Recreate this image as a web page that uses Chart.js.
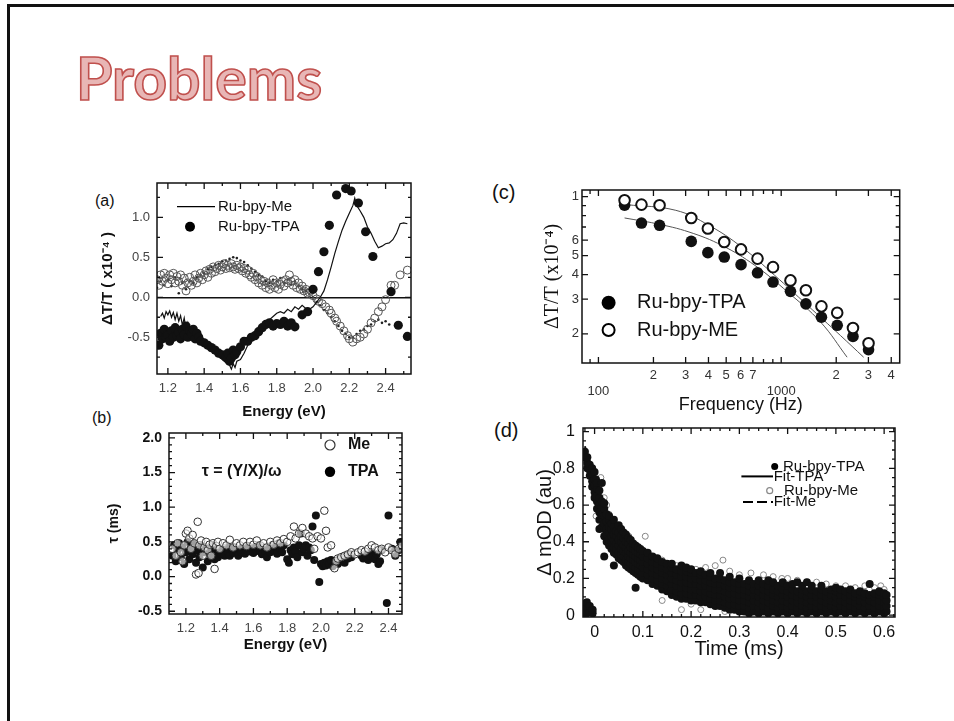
<!DOCTYPE html>
<html><head><meta charset="utf-8">
<script src="https://cdn.jsdelivr.net/npm/chart.js@4.4.1/dist/chart.umd.min.js"></script>
<style>
html,body{margin:0;padding:0;background:#fff;}
body{width:954px;height:721px;position:relative;overflow:hidden;font-family:"Liberation Sans",Arial,sans-serif;}
#frame{position:absolute;left:7px;top:4px;width:960px;height:740px;border-left:3px solid #111;border-top:3px solid #111;}
#title{position:absolute;left:76px;top:48px;font-family:Lato,"Open Sans",sans-serif;font-weight:bold;font-size:59px;line-height:60px;color:#e8b6b5;-webkit-text-stroke:1.6px #c0504d;white-space:nowrap;}
.pl{position:absolute;color:#111;white-space:nowrap;}
canvas{position:absolute;}
</style></head>
<body>
<div id="frame"></div>
<div id="title">Problems</div>
<div class="pl" style="left:95px;top:192px;font-size:16px;line-height:18px;">(a)</div>
<div class="pl" style="left:92px;top:409px;font-size:16px;line-height:18px;">(b)</div>
<div class="pl" style="left:492px;top:180px;font-size:20px;line-height:24px;">(c)</div>
<div class="pl" style="left:494px;top:418px;font-size:20px;line-height:24px;">(d)</div>
<canvas id="ca" width="317" height="250" style="left:99px;top:171px"></canvas>
<canvas id="cb" width="301" height="233" style="left:106px;top:421px"></canvas>
<canvas id="cc" width="366" height="238" style="left:541px;top:178px"></canvas>
<canvas id="cd" width="367" height="245" style="left:533px;top:416px"></canvas>
<script>
// ---------------- Panel (a): ΔT/T vs Energy ----------------
const aLegend = ['Ru-bpy-Me', 'Ru-bpy-TPA'];
const aXTicks = [1.2, 1.4, 1.6, 1.8, 2.0, 2.2, 2.4];
const aXMinor = [1.3, 1.5, 1.7, 1.9, 2.1, 2.3, 2.5];
const aYTicks = [-0.5, 0.0, 0.5, 1.0];
const aYMinor = [-0.75, -0.25, 0.25, 0.75, 1.25];
const aMeLine = [[1.16,-0.24],[1.17,-0.20],[1.18,-0.26],[1.19,-0.18],[1.20,-0.22],[1.21,-0.17],[1.22,-0.25],[1.23,-0.19],[1.24,-0.28],[1.25,-0.20],[1.26,-0.30],[1.27,-0.23],[1.28,-0.35],[1.29,-0.26],[1.30,-0.40],[1.31,-0.32],[1.32,-0.45],[1.34,-0.42],[1.36,-0.50],[1.38,-0.52],[1.40,-0.55],[1.42,-0.60],[1.44,-0.65],[1.46,-0.70],[1.48,-0.74],[1.50,-0.78],[1.52,-0.82],[1.54,-0.85],[1.55,-0.90],[1.56,-0.83],[1.57,-0.88],[1.58,-0.80],[1.60,-0.78],[1.62,-0.70],[1.64,-0.60],[1.66,-0.55],[1.68,-0.50],[1.70,-0.44],[1.72,-0.38],[1.74,-0.32],[1.76,-0.28],[1.78,-0.24],[1.80,-0.20],[1.82,-0.18],[1.84,-0.20],[1.86,-0.15],[1.88,-0.18],[1.90,-0.12],[1.92,-0.15],[1.94,-0.10],[1.96,-0.14],[1.98,-0.15],[2.00,-0.12],[2.02,-0.06],[2.04,0.00],[2.06,0.08],[2.08,0.22],[2.10,0.38],[2.12,0.55],[2.14,0.70],[2.16,0.84],[2.18,0.95],[2.20,1.05],[2.22,1.15],[2.23,1.24],[2.24,1.15],[2.26,1.08],[2.28,1.00],[2.30,0.88],[2.32,0.80],[2.34,0.70],[2.36,0.62],[2.38,0.64],[2.40,0.67],[2.42,0.68],[2.44,0.72],[2.46,0.80],[2.48,0.92],[2.50,0.93],[2.52,0.92]];
const aTpaDots = [[1.15,-0.60],[1.16,-0.45],[1.17,-0.52],[1.18,-0.40],[1.19,-0.50],[1.20,-0.47],[1.21,-0.55],[1.22,-0.42],[1.23,-0.50],[1.24,-0.38],[1.25,-0.48],[1.26,-0.44],[1.27,-0.52],[1.28,-0.40],[1.29,-0.47],[1.30,-0.36],[1.31,-0.50],[1.32,-0.42],[1.33,-0.46],[1.34,-0.40],[1.35,-0.52],[1.36,-0.45],[1.37,-0.50],[1.38,-0.55],[1.40,-0.57],[1.42,-0.60],[1.44,-0.63],[1.46,-0.66],[1.48,-0.70],[1.50,-0.72],[1.52,-0.75],[1.53,-0.70],[1.54,-0.80],[1.55,-0.76],[1.56,-0.66],[1.57,-0.72],[1.58,-0.68],[1.60,-0.62],[1.62,-0.55],[1.64,-0.55],[1.66,-0.50],[1.68,-0.48],[1.70,-0.43],[1.72,-0.38],[1.74,-0.34],[1.76,-0.32],[1.78,-0.36],[1.80,-0.33],[1.82,-0.34],[1.84,-0.30],[1.86,-0.36],[1.88,-0.32],[1.90,-0.37],[1.94,-0.22],[1.97,-0.18],[2.00,0.10],[2.03,0.32],[2.06,0.57],[2.09,0.90],[2.13,1.28],[2.18,1.36],[2.21,1.33],[2.25,1.18],[2.29,0.82],[2.33,0.51],[2.43,0.07],[2.47,-0.35],[2.52,-0.49]];
const aOpen = [[1.14,0.22],[1.15,0.15],[1.16,0.28],[1.17,0.20],[1.18,0.30],[1.19,0.24],[1.20,0.17],[1.21,0.28],[1.22,0.22],[1.23,0.30],[1.24,0.18],[1.25,0.26],[1.26,0.20],[1.27,0.28],[1.28,0.15],[1.29,0.24],[1.30,0.08],[1.31,0.18],[1.32,0.25],[1.33,0.15],[1.34,0.20],[1.35,0.28],[1.36,0.18],[1.37,0.24],[1.38,0.30],[1.39,0.22],[1.40,0.28],[1.41,0.33],[1.42,0.25],[1.43,0.35],[1.44,0.30],[1.45,0.38],[1.46,0.32],[1.47,0.36],[1.48,0.40],[1.49,0.34],[1.50,0.38],[1.51,0.42],[1.52,0.36],[1.53,0.40],[1.54,0.37],[1.55,0.42],[1.56,0.38],[1.57,0.35],[1.58,0.40],[1.59,0.36],[1.60,0.38],[1.61,0.33],[1.62,0.36],[1.63,0.30],[1.64,0.34],[1.65,0.28],[1.66,0.25],[1.67,0.30],[1.68,0.22],[1.69,0.26],[1.70,0.18],[1.71,0.22],[1.72,0.15],[1.73,0.20],[1.74,0.12],[1.75,0.18],[1.76,0.10],[1.77,0.15],[1.78,0.22],[1.79,0.12],[1.80,0.18],[1.81,0.10],[1.82,0.16],[1.83,0.20],[1.84,0.14],[1.85,0.22],[1.86,0.18],[1.87,0.28],[1.88,0.20],[1.89,0.15],[1.90,0.22],[1.91,0.12],[1.92,0.18],[1.93,0.10],[1.94,0.14],[1.95,0.08],[1.96,0.10],[1.97,0.05],[1.98,0.06],[2.00,0.02],[2.02,-0.02],[2.03,-0.05],[2.05,-0.08],[2.07,-0.12],[2.09,-0.16],[2.10,-0.20],[2.12,-0.26],[2.13,-0.30],[2.15,-0.36],[2.17,-0.42],[2.19,-0.48],[2.20,-0.52],[2.22,-0.56],[2.24,-0.52],[2.26,-0.50],[2.28,-0.46],[2.30,-0.40],[2.32,-0.32],[2.34,-0.26],[2.36,-0.18],[2.38,-0.12],[2.40,-0.03],[2.43,0.15],[2.45,0.15],[2.48,0.28],[2.52,0.34]];
const aSmallDots = [[1.14,0.12],[1.16,0.20],[1.18,0.15],[1.20,0.22],[1.22,0.14],[1.24,0.25],[1.26,0.05],[1.28,0.18],[1.30,0.10],[1.32,0.20],[1.34,0.18],[1.36,0.25],[1.38,0.28],[1.40,0.30],[1.42,0.35],[1.44,0.38],[1.46,0.40],[1.48,0.42],[1.50,0.45],[1.52,0.46],[1.54,0.48],[1.56,0.50],[1.58,0.49],[1.60,0.46],[1.62,0.44],[1.64,0.40],[1.66,0.36],[1.68,0.32],[1.70,0.28],[1.72,0.26],[1.74,0.20],[1.76,0.18],[1.78,0.22],[1.80,0.20],[1.82,0.24],[1.84,0.18],[1.86,0.22],[1.88,0.16],[1.90,0.20],[1.92,0.14],[1.94,0.10],[1.96,0.08],[1.98,0.04],[2.00,0.00],[2.02,-0.06],[2.04,-0.10],[2.06,-0.16],[2.08,-0.20],[2.10,-0.25],[2.12,-0.30],[2.14,-0.36],[2.16,-0.42],[2.18,-0.46],[2.20,-0.50],[2.22,-0.50],[2.24,-0.46],[2.26,-0.42],[2.28,-0.40],[2.30,-0.36],[2.32,-0.34],[2.34,-0.30],[2.36,-0.28],[2.38,-0.32],[2.40,-0.30],[2.42,-0.34]];

// ---------------- Panel (b): tau vs Energy ----------------
const bLegend = ['Me', 'TPA'];
const bNote = 'τ = (Y/X)/ω';
const bXTicks = [1.2, 1.4, 1.6, 1.8, 2.0, 2.2, 2.4];
const bXMinor = [1.1, 1.3, 1.5, 1.7, 1.9, 2.1, 2.3];
const bYTicks = [-0.5, 0.0, 0.5, 1.0, 1.5, 2.0];
const bYMinor = [-0.4,-0.3,-0.2,-0.1,0.1,0.2,0.3,0.4,0.6,0.7,0.8,0.9,1.1,1.2,1.3,1.4,1.6,1.7,1.8,1.9];
const bMe = [[1.12,0.40],[1.14,0.30],[1.15,0.48],[1.17,0.35],[1.18,0.22],[1.19,0.45],[1.20,0.62],[1.21,0.66],[1.22,0.55],[1.23,0.40],[1.24,0.60],[1.25,0.48],[1.26,0.03],[1.27,0.79],[1.275,0.05],[1.28,0.45],[1.29,0.52],[1.30,0.30],[1.31,0.42],[1.32,0.50],[1.33,0.38],[1.34,0.46],[1.35,0.30],[1.36,0.48],[1.37,0.11],[1.38,0.44],[1.39,0.50],[1.40,0.40],[1.42,0.48],[1.44,0.45],[1.46,0.53],[1.48,0.42],[1.50,0.48],[1.52,0.45],[1.54,0.50],[1.56,0.44],[1.58,0.50],[1.60,0.46],[1.62,0.52],[1.64,0.45],[1.66,0.48],[1.68,0.42],[1.70,0.50],[1.72,0.46],[1.74,0.52],[1.76,0.48],[1.78,0.54],[1.80,0.50],[1.82,0.58],[1.84,0.72],[1.85,0.55],[1.87,0.62],[1.89,0.70],[1.91,0.62],[1.93,0.58],[1.95,0.55],[1.96,0.40],[1.98,0.58],[2.00,0.55],[2.02,0.95],[2.03,0.66],[2.04,0.42],[2.06,0.45],[2.08,0.12],[2.09,0.22],[2.10,0.26],[2.12,0.28],[2.14,0.30],[2.16,0.32],[2.18,0.35],[2.20,0.32],[2.22,0.35],[2.24,0.38],[2.26,0.36],[2.28,0.40],[2.30,0.45],[2.32,0.42],[2.34,0.38],[2.36,0.40],[2.38,0.35],[2.40,0.42],[2.42,0.38],[2.44,0.32],[2.46,0.40],[2.48,0.45]];
const bTpa = [[1.12,0.30],[1.13,0.45],[1.14,0.22],[1.15,0.38],[1.16,0.48],[1.17,0.28],[1.18,0.42],[1.19,0.18],[1.20,0.35],[1.21,0.50],[1.22,0.25],[1.23,0.40],[1.24,0.32],[1.25,0.47],[1.26,0.20],[1.27,0.38],[1.28,0.28],[1.29,0.45],[1.30,0.13],[1.31,0.35],[1.32,0.42],[1.33,0.22],[1.34,0.38],[1.35,0.30],[1.36,0.45],[1.37,0.25],[1.38,0.35],[1.39,0.28],[1.40,0.40],[1.41,0.32],[1.42,0.38],[1.43,0.30],[1.44,0.42],[1.45,0.35],[1.46,0.30],[1.47,0.40],[1.48,0.34],[1.49,0.42],[1.50,0.36],[1.51,0.30],[1.52,0.40],[1.53,0.35],[1.54,0.42],[1.55,0.33],[1.56,0.38],[1.57,0.44],[1.58,0.36],[1.59,0.40],[1.60,0.34],[1.61,0.42],[1.62,0.37],[1.63,0.45],[1.64,0.38],[1.65,0.32],[1.66,0.42],[1.67,0.36],[1.68,0.28],[1.69,0.40],[1.70,0.35],[1.71,0.45],[1.72,0.38],[1.73,0.42],[1.74,0.33],[1.75,0.48],[1.76,0.40],[1.77,0.35],[1.78,0.45],[1.80,0.25],[1.81,0.20],[1.82,0.38],[1.83,0.32],[1.84,0.42],[1.85,0.36],[1.86,0.28],[1.87,0.45],[1.88,0.62],[1.89,0.35],[1.90,0.40],[1.91,0.45],[1.92,0.30],[1.93,0.42],[1.94,0.38],[1.95,0.72],[1.96,0.24],[1.97,0.88],[1.99,-0.08],[2.00,0.18],[2.01,0.15],[2.02,0.20],[2.03,0.16],[2.04,0.22],[2.05,0.18],[2.06,0.24],[2.07,0.15],[2.08,0.20],[2.09,0.22],[2.10,0.18],[2.11,0.25],[2.12,0.22],[2.13,0.28],[2.14,0.20],[2.15,0.30],[2.16,0.26],[2.17,0.32],[2.18,0.28],[2.24,0.30],[2.25,0.26],[2.26,0.32],[2.27,0.28],[2.28,0.24],[2.29,0.30],[2.30,0.35],[2.31,0.28],[2.32,0.25],[2.33,0.32],[2.34,0.18],[2.35,0.22],[2.36,0.38],[2.39,-0.38],[2.40,0.88],[2.42,0.40],[2.44,0.30],[2.46,0.38],[2.47,0.50],[2.48,0.42]];

// ---------------- Panel (c): ΔT/T vs Frequency (log-log) ----------------
const cLegend = ['Ru-bpy-TPA', 'Ru-bpy-ME'];
const cFreq = [139, 172, 216, 322, 397, 488, 603, 742, 902, 1124, 1365, 1660, 2025, 2470, 3005];
const cTpa = [9.03, 7.33, 7.14, 5.91, 5.18, 4.92, 4.50, 4.09, 3.67, 3.29, 2.84, 2.43, 2.21, 1.94, 1.66];
const cMe = [9.57, 9.10, 9.03, 7.78, 6.87, 5.87, 5.38, 4.83, 4.37, 3.74, 3.33, 2.76, 2.56, 2.14, 1.79];
const cFitMeF = [142, 265, 402, 608, 921, 1394, 2110, 2825];
const cFitMeV = [9.10, 8.51, 7.14, 5.53, 3.97, 2.79, 1.96, 1.52];
const cFitTpaF = [139, 207, 313, 474, 718, 1087, 1646, 2294];
const cFitTpaV = [7.78, 7.28, 6.60, 5.64, 4.46, 3.26, 2.29, 1.52];
const cXTicks = [100, 200, 300, 400, 500, 600, 700, 1000, 2000, 3000, 4000];
const cXLabels = [['', '100'], '2', '3', '4', '5', '6', '7', ['', '1000'], '2', '3', '4'];
const cXMinor = [90, 800, 900];
const cYTicks = [2, 3, 4, 5, 6, 10];
const cYLabels = ['2', '3', '4', '5', '6', '1'];
const cYMinor = [7, 8, 9];

// ---------------- Panel (d): ΔmOD vs Time ----------------
const dLegend = ['Ru-bpy-TPA', 'Fit-TPA', 'Ru-bpy-Me', 'Fit-Me'];
const dXTicks = [0, 0.1, 0.2, 0.3, 0.4, 0.5, 0.6];
const dYTicks = [0, 0.2, 0.4, 0.6, 0.8, 1];
const dXMinor = [-0.02,0.02,0.04,0.06,0.08,0.12,0.14,0.16,0.18,0.22,0.24,0.26,0.28,0.32,0.34,0.36,0.38,0.42,0.44,0.46,0.48,0.52,0.54,0.56,0.58,0.62];
const dYMinor = [0.05,0.1,0.15,0.25,0.3,0.35,0.45,0.5,0.55,0.65,0.7,0.75,0.85,0.9,0.95];
// Ru-bpy-TPA: columns of [time, [ΔmOD values read at that time]]
const dTpaCols = [
[-0.022,[0.00,0.03,0.06]],[-0.016,[0.01,0.04,0.07]],[-0.01,[0.02,0.05]],[-0.004,[0.01,0.03]],
[-0.02,[0.86,0.89]],[-0.015,[0.80,0.83,0.86]],[-0.01,[0.76,0.79,0.82]],[-0.005,[0.70,0.73,0.77,0.80]],
[0.0,[0.64,0.67,0.71,0.74,0.78]],[0.003,[0.74]],[0.005,[0.58,0.62,0.65,0.69,0.72]],[0.01,[0.47,0.52,0.56,0.60,0.64,0.68]],
[0.015,[0.48,0.52,0.55,0.59,0.62,0.72]],[0.02,[0.32,0.43,0.47,0.50,0.54,0.58,0.61]],[0.025,[0.40,0.44,0.47,0.51,0.55]],
[0.03,[0.38,0.41,0.45,0.48,0.52,0.54]],[0.035,[0.36,0.40,0.43,0.47,0.50]],[0.04,[0.27,0.34,0.37,0.41,0.44,0.48,0.52]],
[0.045,[0.33,0.36,0.39,0.43,0.46]],[0.05,[0.31,0.34,0.38,0.41,0.45,0.49]],[0.055,[0.30,0.33,0.36,0.40,0.43,0.47]],
[0.06,[0.29,0.32,0.35,0.38,0.42,0.45]],[0.065,[0.27,0.30,0.34,0.37,0.40,0.44]],[0.07,[0.26,0.29,0.32,0.35,0.39,0.42]],
[0.075,[0.25,0.28,0.31,0.34,0.37,0.41]],[0.08,[0.24,0.27,0.30,0.33,0.36,0.39]],[0.085,[0.15,0.23,0.26,0.29,0.32,0.35,0.38]],
[0.09,[0.22,0.25,0.28,0.31,0.34,0.37]],[0.095,[0.21,0.24,0.27,0.30,0.33,0.36]],[0.10,[0.20,0.23,0.26,0.29,0.32,0.35]],
[0.11,[0.19,0.22,0.25,0.28,0.31,0.34]],[0.12,[0.17,0.20,0.23,0.26,0.29,0.32]],[0.13,[0.16,0.19,0.22,0.25,0.28,0.31]],
[0.14,[0.14,0.17,0.20,0.23,0.26,0.29]],[0.15,[0.13,0.16,0.19,0.22,0.25,0.28]],[0.16,[0.11,0.14,0.17,0.20,0.23,0.26,0.28]],
[0.17,[0.10,0.13,0.16,0.19,0.22,0.25]],[0.18,[0.09,0.12,0.15,0.18,0.21,0.24,0.27]],[0.19,[0.09,0.12,0.15,0.18,0.21,0.24,0.26]],
[0.20,[0.08,0.11,0.14,0.17,0.20,0.23,0.25]],[0.21,[0.08,0.11,0.14,0.17,0.20,0.23]],[0.22,[0.07,0.10,0.13,0.16,0.19,0.22,0.24]],
[0.23,[0.07,0.10,0.13,0.16,0.19,0.22]],[0.24,[0.06,0.09,0.12,0.15,0.18,0.21,0.23]],[0.25,[0.05,0.08,0.11,0.14,0.17,0.20]],
[0.26,[0.05,0.08,0.11,0.14,0.17,0.20,0.23]],[0.27,[0.04,0.07,0.10,0.13,0.16,0.19]],[0.28,[0.03,0.06,0.09,0.12,0.15,0.18,0.21]],
[0.29,[0.03,0.06,0.09,0.12,0.15,0.18]],[0.30,[0.02,0.05,0.08,0.11,0.14,0.17,0.20]],[0.31,[0.02,0.05,0.08,0.11,0.14,0.17]],
[0.32,[0.01,0.04,0.07,0.10,0.13,0.16,0.19]],[0.33,[0.02,0.05,0.08,0.11,0.14,0.17]],[0.34,[0.01,0.04,0.07,0.10,0.13,0.16,0.19]],
[0.35,[0.02,0.05,0.08,0.11,0.14,0.17]],[0.36,[0.01,0.04,0.07,0.10,0.13,0.16,0.19]],[0.37,[0.02,0.05,0.08,0.11,0.14,0.18]],
[0.38,[0.01,0.04,0.07,0.10,0.13,0.16]],[0.39,[0.02,0.05,0.08,0.11,0.14,0.18]],[0.40,[0.01,0.04,0.07,0.10,0.13,0.16]],
[0.41,[0.02,0.05,0.08,0.11,0.14,0.17]],[0.42,[0.01,0.04,0.07,0.10,0.13,0.18]],[0.43,[0.02,0.05,0.08,0.11,0.14,0.16]],
[0.44,[0.01,0.04,0.07,0.10,0.13,0.18]],[0.45,[0.02,0.05,0.08,0.11,0.14,0.16]],[0.46,[0.01,0.04,0.07,0.10,0.13]],
[0.47,[0.02,0.05,0.08,0.11,0.14,0.16]],[0.48,[0.01,0.04,0.07,0.10,0.13]],[0.49,[0.02,0.05,0.08,0.11,0.14]],
[0.50,[0.01,0.04,0.07,0.10,0.13,0.15]],[0.51,[0.02,0.05,0.08,0.11,0.14]],[0.52,[0.01,0.04,0.07,0.10,0.13]],
[0.53,[0.02,0.05,0.08,0.11,0.14]],[0.54,[0.01,0.04,0.07,0.10,0.12]],[0.55,[0.02,0.05,0.08,0.11,0.13]],
[0.56,[0.01,0.04,0.07,0.10,0.12]],[0.57,[0.02,0.05,0.08,0.11,0.17]],[0.58,[0.01,0.04,0.07,0.10,0.12]],
[0.59,[0.02,0.05,0.08,0.11,0.13]],[0.60,[0.01,0.04,0.07,0.10,0.12]],[0.605,[0.02,0.05,0.08,0.11]]];
const dMe = [[-0.02,0.04],[-0.015,0.80],[0.003,0.54],[0.0,0.78],[0.013,0.75],[0.02,0.64],[0.025,0.60],[0.03,0.55],[0.04,0.45],[0.05,0.40],[0.06,0.40],[0.071,0.43],[0.08,0.30],[0.09,0.28],[0.105,0.43],[0.11,0.30],[0.12,0.32],[0.14,0.30],[0.14,0.08],[0.15,0.28],[0.17,0.27],[0.18,0.03],[0.2,0.06],[0.21,0.25],[0.22,0.03],[0.23,0.26],[0.25,0.27],[0.266,0.30],[0.27,0.02],[0.28,0.24],[0.3,0.22],[0.324,0.23],[0.33,0.04],[0.35,0.22],[0.37,0.21],[0.388,0.20],[0.4,0.20],[0.42,0.19],[0.44,0.18],[0.46,0.18],[0.48,0.17],[0.5,0.16],[0.52,0.16],[0.54,0.15],[0.56,0.16],[0.58,0.15],[0.593,0.16],[0.6,0.14]];
const dFitTpa = [[-0.02,0.90],[-0.01,0.80],[0,0.72],[0.01,0.63],[0.02,0.56],[0.03,0.50],[0.05,0.41],[0.075,0.33],[0.1,0.28],[0.15,0.21],[0.2,0.16],[0.25,0.13],[0.3,0.10],[0.35,0.085],[0.4,0.07],[0.5,0.06],[0.6,0.055]];
const dFitMe = [[-0.02,0.92],[-0.01,0.82],[0,0.74],[0.01,0.66],[0.02,0.59],[0.03,0.53],[0.05,0.44],[0.075,0.36],[0.1,0.30],[0.15,0.23],[0.2,0.18],[0.25,0.14],[0.3,0.11],[0.35,0.09],[0.4,0.08],[0.5,0.065],[0.6,0.06]];

// ---------------- helpers ----------------
Chart.defaults.font.family = '"Liberation Sans", Arial, sans-serif';
Chart.defaults.animation = false;

const boxPlugin = {
  id: 'box',
  afterDraw(chart, args, o) {
    const {ctx, chartArea: ca} = chart;
    const xs = chart.scales.x, ys = chart.scales.y;
    ctx.save();
    ctx.strokeStyle = '#111';
    ctx.lineWidth = o.lineWidth || 1.5;
    ctx.strokeRect(ca.left, ca.top, ca.right - ca.left, ca.bottom - ca.top);
    ctx.lineWidth = 1.3;
    const drawX = (vals, len) => vals.forEach(v => {
      const p = xs.getPixelForValue(v);
      if (p < ca.left + 1 || p > ca.right - 1) return;
      ctx.beginPath();
      ctx.moveTo(p, ca.bottom); ctx.lineTo(p, ca.bottom - len);
      ctx.moveTo(p, ca.top); ctx.lineTo(p, ca.top + len);
      ctx.stroke();
    });
    const drawY = (vals, len) => vals.forEach(v => {
      const p = ys.getPixelForValue(v);
      if (p < ca.top + 1 || p > ca.bottom - 1) return;
      ctx.beginPath();
      ctx.moveTo(ca.left, p); ctx.lineTo(ca.left + len, p);
      ctx.moveTo(ca.right, p); ctx.lineTo(ca.right - len, p);
      ctx.stroke();
    });
    drawX(o.xMajor || [], o.major || 6);
    drawX(o.xMinor || [], o.minor || 3);
    drawY(o.yMajor || [], o.major || 6);
    drawY(o.yMinor || [], o.minor || 3);
    ctx.restore();
  }
};

const notePlugin = {
  id: 'notes',
  afterDraw(chart, args, o) {
    const {ctx, chartArea: ca} = chart;
    (o.items || []).forEach(it => {
      const y0 = ca.top + it.dy;
      ctx.save();
      ctx.strokeStyle = it.color || '#000';
      ctx.fillStyle = it.color || '#000';
      if (it.mark === 'line' || it.mark === 'dash') {
        ctx.lineWidth = it.lw || 1.3;
        if (it.mark === 'dash') ctx.setLineDash([10, 4]);
        ctx.beginPath(); ctx.moveTo(ca.left + it.x1, y0); ctx.lineTo(ca.left + it.x2, y0); ctx.stroke();
      } else if (it.mark === 'dot') {
        ctx.beginPath(); ctx.arc(ca.left + it.dx, y0, it.r, 0, Math.PI * 2); ctx.fill();
      } else if (it.mark === 'open') {
        ctx.lineWidth = it.lw || 1.2;
        ctx.fillStyle = '#fff';
        ctx.beginPath(); ctx.arc(ca.left + it.dx, y0, it.r, 0, Math.PI * 2); ctx.fill(); ctx.stroke();
      }
      if (it.text) {
        ctx.setLineDash([]);
        ctx.fillStyle = it.textColor || '#111';
        ctx.font = it.font;
        ctx.textBaseline = 'middle';
        ctx.textAlign = 'left';
        ctx.fillText(it.text, ca.left + it.tx, y0);
      }
      ctx.restore();
    });
  }
};

function noPad(s) { s.paddingLeft = 0; s.paddingRight = 0; s.paddingTop = 0; s.paddingBottom = 0; }
function fixTicks(vals) { return s => { s.ticks = vals.map(v => ({value: v})); }; }
function fixW(w) { return s => { s.width = w; noPad(s); }; }
function fixH(h) { return s => { s.height = h; noPad(s); }; }
function pts(xs, ys) { return xs.map((x, i) => ({x: x, y: ys[i]})); }
function cols(table) { const out = []; table.forEach(c => c[1].forEach(v => out.push({x: c[0], y: v}))); return out; }

// ---------------- chart (a) ----------------
new Chart(document.getElementById('ca'), {
  type: 'scatter',
  data: { datasets: [
    { label: aLegend[1], data: aTpaDots, pointRadius: 4.6, pointBackgroundColor: '#111', pointBorderColor: '#111', pointBorderWidth: 0 },
    { label: aLegend[0], data: aMeLine, showLine: true, borderColor: '#111', borderWidth: 1.2, pointRadius: 0, tension: 0 },
    { label: 'open', data: aOpen, pointRadius: 4, pointBackgroundColor: 'rgba(0,0,0,0)', pointBorderColor: '#555', pointBorderWidth: 1 },
    { label: 'dots', data: aSmallDots, pointRadius: 1.3, pointBackgroundColor: '#222', pointBorderWidth: 0 }
  ]},
  options: {
    responsive: false, devicePixelRatio: 1,
    layout: { padding: { top: 12, right: 3, left: 0, bottom: 0 } },
    plugins: { legend: { display: false }, tooltip: { enabled: false },
      box: { xMajor: aXTicks, xMinor: aXMinor, yMajor: aYTicks, yMinor: aYMinor },
      notes: { items: [
        { mark: 'line', x1: 20, x2: 58, dy: 23.7, text: aLegend[0], tx: 61, font: '15px "Liberation Sans"' },
        { mark: 'dot', dx: 33, dy: 43.7, r: 5, text: aLegend[1], tx: 61, font: '15px "Liberation Sans"' }
      ]}
    },
    scales: {
      x: { type: 'linear', min: 1.14, max: 2.54, afterBuildTicks: fixTicks(aXTicks), afterFit: fixH(47),
        grid: { display: false, drawTicks: false }, border: { display: false },
        ticks: { padding: 7, color: '#444', font: { size: 13 }, callback: v => v.toFixed(1) },
        title: { display: true, text: 'Energy (eV)', color: '#111', font: { size: 15, weight: 'bold' }, padding: 0 } },
      y: { type: 'linear', min: -0.96, max: 1.43, afterBuildTicks: fixTicks(aYTicks), afterFit: fixW(58),
        grid: { drawTicks: false, color: c => (c.tick && c.tick.value === 0) ? '#111' : 'rgba(0,0,0,0)', lineWidth: 1.5 }, border: { display: false },
        ticks: { padding: 7, color: '#444', font: { size: 13 }, callback: v => v.toFixed(1) },
        title: { display: true, text: 'ΔT/T ( x10⁻⁴ )', color: '#111', font: { size: 15, weight: 'bold' }, padding: 0 } }
    }
  },
  plugins: [boxPlugin, notePlugin]
});

// ---------------- chart (b) ----------------
new Chart(document.getElementById('cb'), {
  type: 'scatter',
  data: { datasets: [
    { label: bLegend[0], data: bMe, pointRadius: 3.8, pointBackgroundColor: 'rgba(255,255,255,0.6)', pointBorderColor: '#333', pointBorderWidth: 1 },
    { label: bLegend[1], data: bTpa, pointRadius: 4, pointBackgroundColor: '#111', pointBorderWidth: 0 }
  ]},
  options: {
    responsive: false, devicePixelRatio: 1,
    layout: { padding: { top: 12, right: 3, left: 0, bottom: 0 } },
    plugins: { legend: { display: false }, tooltip: { enabled: false },
      box: { xMajor: bXTicks, xMinor: bXMinor, yMajor: bYTicks, yMinor: bYMinor, minor: 3 },
      notes: { items: [
        { mark: 'open', dx: 161, dy: 12, r: 5, color: '#333', text: bLegend[0], tx: 179, font: 'bold 16px "Liberation Sans"' },
        { mark: 'dot', dx: 161, dy: 38.7, r: 5.2, text: bLegend[1], tx: 179, font: 'bold 16px "Liberation Sans"' },
        { text: bNote, tx: 32.7, dy: 38.7, font: 'bold 16px "Liberation Sans"' }
      ]}
    },
    scales: {
      x: { type: 'linear', min: 1.10, max: 2.48, afterBuildTicks: fixTicks(bXTicks), afterFit: fixH(40),
        grid: { display: false, drawTicks: false }, border: { display: false },
        ticks: { padding: 7, color: '#444', font: { size: 13 }, callback: v => v.toFixed(1) },
        title: { display: true, text: 'Energy (eV)', color: '#111', font: { size: 15, weight: 'bold' }, padding: 0 } },
      y: { type: 'linear', min: -0.54, max: 2.07, afterBuildTicks: fixTicks(bYTicks), afterFit: fixW(63),
        grid: { display: false, drawTicks: false }, border: { display: false },
        ticks: { padding: 7, color: '#111', font: { size: 14, weight: 'bold' }, callback: v => v.toFixed(1) },
        title: { display: true, text: 'τ (ms)', color: '#111', font: { size: 14, weight: 'bold' }, padding: 0 } }
    }
  },
  plugins: [boxPlugin, notePlugin]
});

// ---------------- chart (c) ----------------
new Chart(document.getElementById('cc'), {
  type: 'scatter',
  data: { datasets: [
    { label: cLegend[1], data: pts(cFreq, cMe), pointRadius: 5.3, pointBackgroundColor: '#fff', pointBorderColor: '#111', pointBorderWidth: 2 },
    { label: cLegend[0], data: pts(cFreq, cTpa), pointRadius: 5.8, pointBackgroundColor: '#111', pointBorderWidth: 0 },
    { label: 'fitMe', data: pts(cFitMeF, cFitMeV), showLine: true, borderColor: '#555', borderWidth: 1, pointRadius: 0, tension: 0.4 },
    { label: 'fitTpa', data: pts(cFitTpaF, cFitTpaV), showLine: true, borderColor: '#555', borderWidth: 1, pointRadius: 0, tension: 0.4 }
  ]},
  options: {
    responsive: false, devicePixelRatio: 1,
    layout: { padding: { top: 12, right: 3, left: 0, bottom: 0 } },
    plugins: { legend: { display: false }, tooltip: { enabled: false },
      box: { xMajor: cXTicks, xMinor: cXMinor, yMajor: cYTicks, yMinor: cYMinor, major: 6, minor: 4 },
      notes: { items: [
        { mark: 'dot', dx: 26.6, dy: 112.7, r: 7, text: cLegend[0], tx: 55, font: '20px "Liberation Sans"' },
        { mark: 'open', dx: 26.6, dy: 140, r: 6, lw: 2, text: cLegend[1], tx: 55, font: '20px "Liberation Sans"' }
      ]}
    },
    scales: {
      x: { type: 'logarithmic', min: 81.3, max: 4450, afterBuildTicks: fixTicks(cXTicks), afterFit: fixH(53),
        grid: { display: false, drawTicks: false }, border: { display: false },
        ticks: { padding: 5, color: '#333', font: { size: 13 }, autoSkip: false, maxRotation: 0, callback: (v, i) => cXLabels[i] },
        title: { display: true, text: 'Frequency (Hz)', color: '#111', font: { size: 18 }, padding: 0 } },
      y: { type: 'logarithmic', min: 1.42, max: 10.8, afterBuildTicks: fixTicks(cYTicks), afterFit: fixW(41),
        grid: { display: false, drawTicks: false }, border: { display: false },
        ticks: { padding: 3, color: '#333', font: { size: 13 }, autoSkip: false, callback: (v, i) => cYLabels[i] },
        title: { display: true, text: 'ΔT/T (x10⁻⁴)', color: '#111', font: { size: 20, family: '"Liberation Serif", serif' }, padding: 0 } }
    }
  },
  plugins: [boxPlugin, notePlugin]
});

// ---------------- chart (d) ----------------
new Chart(document.getElementById('cd'), {
  type: 'scatter',
  data: { datasets: [
    { label: dLegend[0], data: cols(dTpaCols), pointRadius: 4, pointBackgroundColor: '#111', pointBorderWidth: 0 },
    { label: dLegend[2], data: dMe, pointRadius: 3, pointBackgroundColor: '#fff', pointBorderColor: '#888', pointBorderWidth: 1 },
    { label: dLegend[1], data: dFitTpa, showLine: true, borderColor: '#111', borderWidth: 2, pointRadius: 0, cubicInterpolationMode: 'monotone' },
    { label: dLegend[3], data: dFitMe, showLine: true, borderColor: '#111', borderWidth: 2, borderDash: [10, 4], pointRadius: 0, cubicInterpolationMode: 'monotone' }
  ]},
  options: {
    responsive: false, devicePixelRatio: 1,
    layout: { padding: { top: 12, right: 3, left: 0, bottom: 0 } },
    plugins: { legend: { display: false }, tooltip: { enabled: false },
      box: { xMajor: dXTicks, xMinor: dXMinor, yMajor: dYTicks, yMinor: dYMinor, major: 6, minor: 3 },
      notes: { items: [
        { mark: 'dot', dx: 191.7, dy: 38.4, r: 3.5, text: dLegend[0], tx: 200, font: '15px "Liberation Sans"' },
        { mark: 'line', x1: 158.4, x2: 190, dy: 48.4, lw: 2, text: dLegend[1], tx: 190.7, font: '15px "Liberation Sans"' },
        { mark: 'open', dx: 186.7, dy: 62.7, r: 3, color: '#888', text: dLegend[2], tx: 201, font: '15px "Liberation Sans"' },
        { mark: 'dash', x1: 160, x2: 190, dy: 74, lw: 2, text: dLegend[3], tx: 190.7, font: '15px "Liberation Sans"' }
      ]}
    },
    scales: {
      x: { type: 'linear', min: -0.024, max: 0.6225, afterBuildTicks: fixTicks(dXTicks), afterFit: fixH(44),
        grid: { display: false, drawTicks: false }, border: { display: false },
        ticks: { padding: 6, color: '#111', font: { size: 16 }, callback: v => String(v) },
        title: { display: true, text: 'Time (ms)', color: '#111', font: { size: 20 }, padding: 0 } },
      y: { type: 'linear', min: -0.01, max: 1.02, afterBuildTicks: fixTicks(dYTicks), afterFit: fixW(50),
        grid: { display: false, drawTicks: false }, border: { display: false },
        ticks: { padding: 8, color: '#111', font: { size: 16 }, callback: v => String(v) },
        title: { display: true, text: 'Δ mOD (au)', color: '#111', font: { size: 20 }, padding: 0 } }
    }
  },
  plugins: [boxPlugin, notePlugin]
});
</script>
</body></html>
